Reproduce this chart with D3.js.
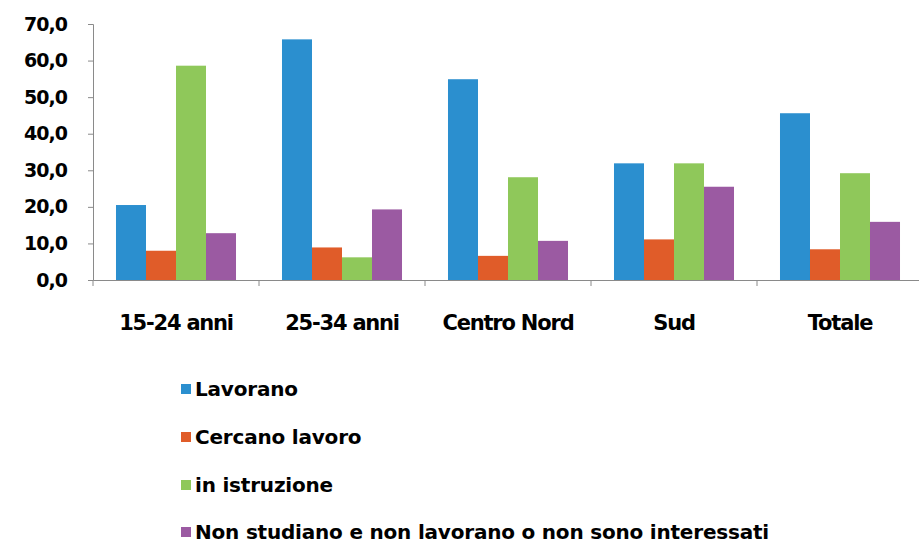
<!DOCTYPE html>
<html><head><meta charset="utf-8">
<script src="https://cdn.jsdelivr.net/npm/d3@7"></script>
<style>
body{margin:0;background:#fff;}
text{font-family:"DejaVu Sans",Verdana,sans-serif;font-weight:bold;fill:#000;}
</style></head>
<body><svg id="c" width="919" height="544"></svg>
<script>
const categories = ["15-24 anni","25-34 anni","Centro Nord","Sud","Totale"];
const seriesNames = ["Lavorano","Cercano lavoro","in istruzione","Non studiano e non lavorano o non sono interessati"];
const lavorano = [20.5, 65.8, 54.9, 31.9, 45.6];
const cercano = [8.0, 8.9, 6.6, 11.1, 8.4];
const istruzione = [58.6, 6.2, 28.1, 31.9, 29.2];
const nonStudiano = [12.8, 19.3, 10.7, 25.5, 15.9];
const yTicks = [0,10,20,30,40,50,60,70];
const colors = ["#2b8fcf","#e05c29","#8fc85a","#9b5aa2"];

(function(){
const series = [lavorano, cercano, istruzione, nonStudiano];
const svg = d3.select("#c");
const L = 93, R = 923, T = 24, B = 280;
const x = d3.scaleBand().domain(categories).range([L, R]).paddingInner(0.277).paddingOuter(0.1385);
const x0 = d3.scaleBand().domain(categories).range([L, R]);
const xs = d3.scaleBand().domain(d3.range(4)).range([0, x.bandwidth()]);
const y = d3.scaleLinear().domain([0,70]).range([B, T]);

const ya = svg.append("g").attr("transform",`translate(${L},0)`)
  .call(d3.axisLeft(y).tickValues(yTicks).tickSize(5).tickFormat(d => d3.format(".1f")(d).replace(".",",")));
ya.select(".domain").attr("stroke","#8a8a8a");
ya.selectAll(".tick line").attr("stroke","#8a8a8a");
ya.selectAll(".tick text").attr("x",-26).style("font-family","'DejaVu Sans',Verdana,sans-serif")
  .style("font-size","19px").style("font-weight","bold").style("letter-spacing","-1px").attr("fill","#111");

categories.forEach((c,i)=>{
  series.forEach((s,j)=>{
    svg.append("rect").attr("x", x(c)+xs(j)).attr("y", y(s[i]))
      .attr("width", xs.bandwidth()).attr("height", y(0)-y(s[i])).attr("fill", colors[j]);
  });
});

const xa = svg.append("g").attr("transform",`translate(0,${B})`)
  .call(d3.axisBottom(x0).tickSize(0).tickFormat(""));
xa.select(".domain").attr("stroke","#8a8a8a");
const tickPos = d3.range(6).map(i => L + i*x0.step());
svg.append("g").selectAll("line").data(tickPos).join("line")
  .attr("x1",d=>d).attr("x2",d=>d).attr("y1",B).attr("y2",B+6).attr("stroke","#8a8a8a");
svg.append("g").selectAll("text").data(categories).join("text")
  .attr("x", d => x0(d)+x0.bandwidth()/2).attr("y", 330).attr("text-anchor","middle")
  .style("font-size","21px").style("letter-spacing","-1.2px").text(d=>d);

const lg = svg.append("g");
const rows = [389, 437, 485, 532];
seriesNames.forEach((n,j)=>{
  lg.append("rect").attr("x",181).attr("y",rows[j]-5).attr("width",10).attr("height",10).attr("fill",colors[j]);
  lg.append("text").attr("x",195).attr("y",rows[j]+7).style("font-size","20px").style("letter-spacing","-0.2px").text(n);
});
})();
</script></body></html>
